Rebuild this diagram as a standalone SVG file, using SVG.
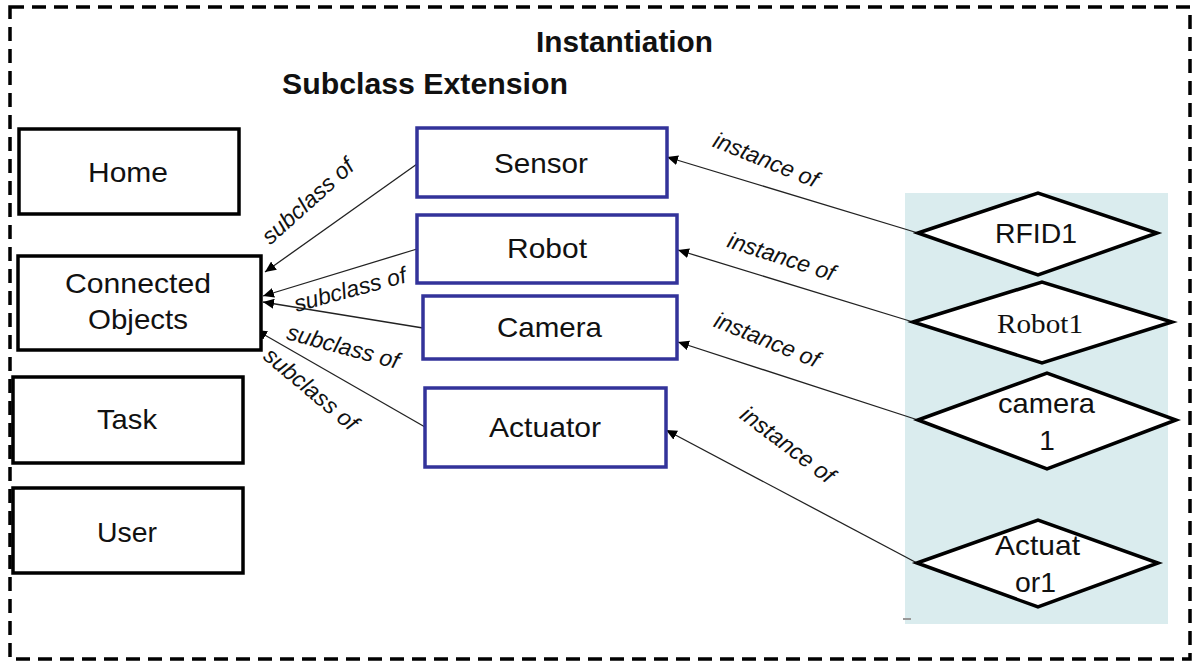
<svg xmlns="http://www.w3.org/2000/svg" width="1194" height="662" viewBox="0 0 1194 662">
<style>
.lbl{font-family:"Liberation Sans",Arial,sans-serif;font-size:28px;fill:#111}
.hd{font-family:"Liberation Sans",Arial,sans-serif;font-size:29px;font-weight:bold;fill:#111}
.it{font-family:"Liberation Sans",Arial,sans-serif;font-size:23px;font-style:italic;fill:#111}
.ser{font-family:"Liberation Serif","Times New Roman",serif;font-size:28px;fill:#111}
.bk{fill:#fff;stroke:#000;stroke-width:3.5}
.bl{fill:#fff;stroke:#33339a;stroke-width:3.5}
.dm{fill:#fff;stroke:#000;stroke-width:3.5;stroke-linejoin:miter}
.cn{fill:none;stroke:#222;stroke-width:1.3;marker-end:url(#ah)}
</style>
<defs>
<marker id="ah" markerUnits="userSpaceOnUse" markerWidth="12" markerHeight="10" refX="11" refY="5" orient="auto">
<path d="M0,0 L11,5 L0,10 Z" fill="#000"/>
</marker>
</defs>
<rect width="1194" height="662" fill="#fff"/>
<rect x="10" y="7" width="1180" height="652" fill="none" stroke="#000" stroke-width="3.5" stroke-dasharray="14 8"/>
<rect x="905" y="193" width="263" height="431" fill="#daecee"/>
<rect x="903" y="618" width="8" height="2" fill="#999"/>
<text class="hd" x="536" y="52" textLength="177" lengthAdjust="spacingAndGlyphs">Instantiation</text>
<text class="hd" x="282" y="94" textLength="286" lengthAdjust="spacingAndGlyphs">Subclass Extension</text>

<g id="connectors">
<line class="cn" x1="417" y1="164" x2="265" y2="272"/>
<line class="cn" x1="417" y1="249" x2="263" y2="296"/>
<line class="cn" x1="423" y1="328" x2="263" y2="302"/>
<line class="cn" x1="425" y1="427" x2="256" y2="330"/>
<line class="cn" x1="918" y1="233" x2="667" y2="157"/>
<line class="cn" x1="913" y1="322" x2="678" y2="250"/>
<line class="cn" x1="918" y1="420" x2="678" y2="342"/>
<line class="cn" x1="917" y1="563" x2="666" y2="430"/>
<text class="it" text-anchor="middle" transform="translate(313,207) rotate(-42)">subclass of</text>
<text class="it" text-anchor="middle" transform="translate(352,297) rotate(-15)">subclass of</text>
<text class="it" text-anchor="middle" transform="translate(341,354) rotate(15)">subclass of</text>
<text class="it" text-anchor="middle" transform="translate(306,395) rotate(40)">subclass of</text>
<text class="it" text-anchor="middle" transform="translate(763,167) rotate(22)">instance of</text>
<text class="it" text-anchor="middle" transform="translate(779,264) rotate(18)">instance of</text>
<text class="it" text-anchor="middle" transform="translate(764,347) rotate(22)">instance of</text>
<text class="it" text-anchor="middle" transform="translate(783,451) rotate(37)">instance of</text>
</g>

<g id="home"><rect class="bk" x="19" y="129" width="220" height="85"/><text class="lbl" x="88" y="182" textLength="80" lengthAdjust="spacingAndGlyphs">Home</text></g>
<g id="connected-objects"><rect class="bk" x="18" y="256" width="243" height="94"/><text class="lbl" x="65" y="293" textLength="146" lengthAdjust="spacingAndGlyphs">Connected</text><text class="lbl" x="88" y="329" textLength="100" lengthAdjust="spacingAndGlyphs">Objects</text></g>
<g id="task"><rect class="bk" x="13" y="377" width="230" height="86"/><text class="lbl" x="97" y="429" textLength="60" lengthAdjust="spacingAndGlyphs">Task</text></g>
<g id="user"><rect class="bk" x="13" y="488" width="230" height="85"/><text class="lbl" x="97" y="542" textLength="60" lengthAdjust="spacingAndGlyphs">User</text></g>

<g id="sensor"><rect class="bl" x="417" y="128" width="250" height="69"/><text class="lbl" x="494" y="173" textLength="94" lengthAdjust="spacingAndGlyphs">Sensor</text></g>
<g id="robot"><rect class="bl" x="417" y="215" width="260" height="68"/><text class="lbl" x="507" y="258" textLength="80" lengthAdjust="spacingAndGlyphs">Robot</text></g>
<g id="camera"><rect class="bl" x="423" y="296" width="254" height="63"/><text class="lbl" x="497" y="337" textLength="105" lengthAdjust="spacingAndGlyphs">Camera</text></g>
<g id="actuator"><rect class="bl" x="425" y="388" width="241" height="79"/><text class="lbl" x="489" y="437" textLength="112" lengthAdjust="spacingAndGlyphs">Actuator</text></g>

<g id="rfid1"><polygon class="dm" points="918,233 1038,193 1157,233 1038,275"/><text class="lbl" x="995" y="243" textLength="82" lengthAdjust="spacingAndGlyphs">RFID1</text></g>
<g id="robot1"><polygon class="dm" points="913,322 1042,282 1172,322 1042,363"/><text class="ser" x="997" y="333" textLength="86" lengthAdjust="spacingAndGlyphs">Robot1</text></g>
<g id="camera1"><polygon class="dm" points="918,420 1047,373 1176,420 1047,469"/><text class="lbl" x="998" y="413" textLength="97" lengthAdjust="spacingAndGlyphs">camera</text><text class="lbl" x="1047" y="450" text-anchor="middle">1</text></g>
<g id="actuator1"><polygon class="dm" points="917,563 1038,520 1158,563 1038,607"/><text class="lbl" x="995" y="555" textLength="85" lengthAdjust="spacingAndGlyphs">Actuat</text><text class="lbl" x="1015" y="592" textLength="41" lengthAdjust="spacingAndGlyphs">or1</text></g>
</svg>
